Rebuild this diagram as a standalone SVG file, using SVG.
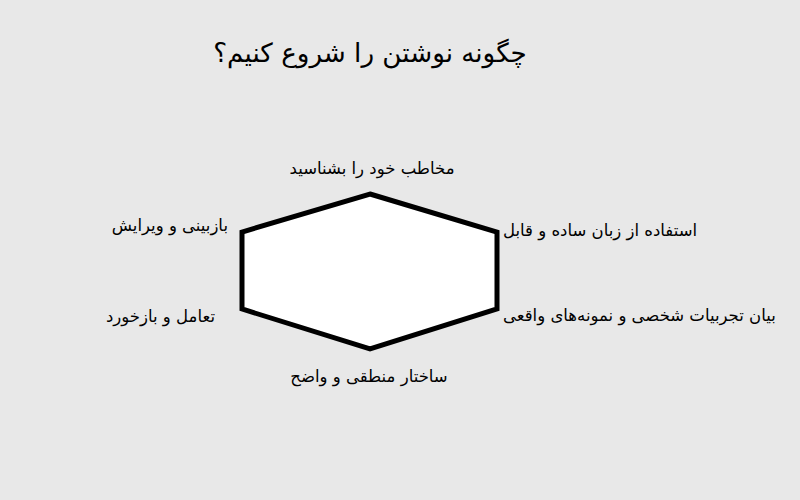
<svg xmlns="http://www.w3.org/2000/svg" width="800" height="500" viewBox="0 0 800 500">
<style>
.t{font-family:"DejaVu Sans","Noto Sans",sans-serif;fill:#000}
.title{font-size:26.2px}
.lbl{font-size:16.5px}
.hex{fill:#fff;stroke:#000;stroke-width:5;stroke-linejoin:miter}
</style>
<rect width="800" height="500" fill="#e8e8e8"/>
<text class="t title" x="370" y="62" text-anchor="middle">چگونه نوشتن را شروع کنیم؟</text>
<g id="connectors"></g>
<g id="hexagon"><polygon class="hex" points="370,194 497,232 497,309 370,349 242,309 242,232"/></g>
<g id="n1"><text class="t lbl" x="372" y="174" text-anchor="middle">مخاطب خود را بشناسید</text></g>
<g id="n2"><text class="t lbl" x="503" y="236" text-anchor="start">استفاده از زبان ساده و قابل</text></g>
<g id="n3"><text class="t lbl" x="503" y="321" text-anchor="start">بیان تجربیات شخصی و نمونه‌های واقعی</text></g>
<g id="n4"><text class="t lbl" x="369" y="382" text-anchor="middle">ساختار منطقی و واضح</text></g>
<g id="n5"><text class="t lbl" x="215" y="322" text-anchor="end">تعامل و بازخورد</text></g>
<g id="n6"><text class="t lbl" x="228" y="231" text-anchor="end">بازبینی و ویرایش</text></g>
</svg>
